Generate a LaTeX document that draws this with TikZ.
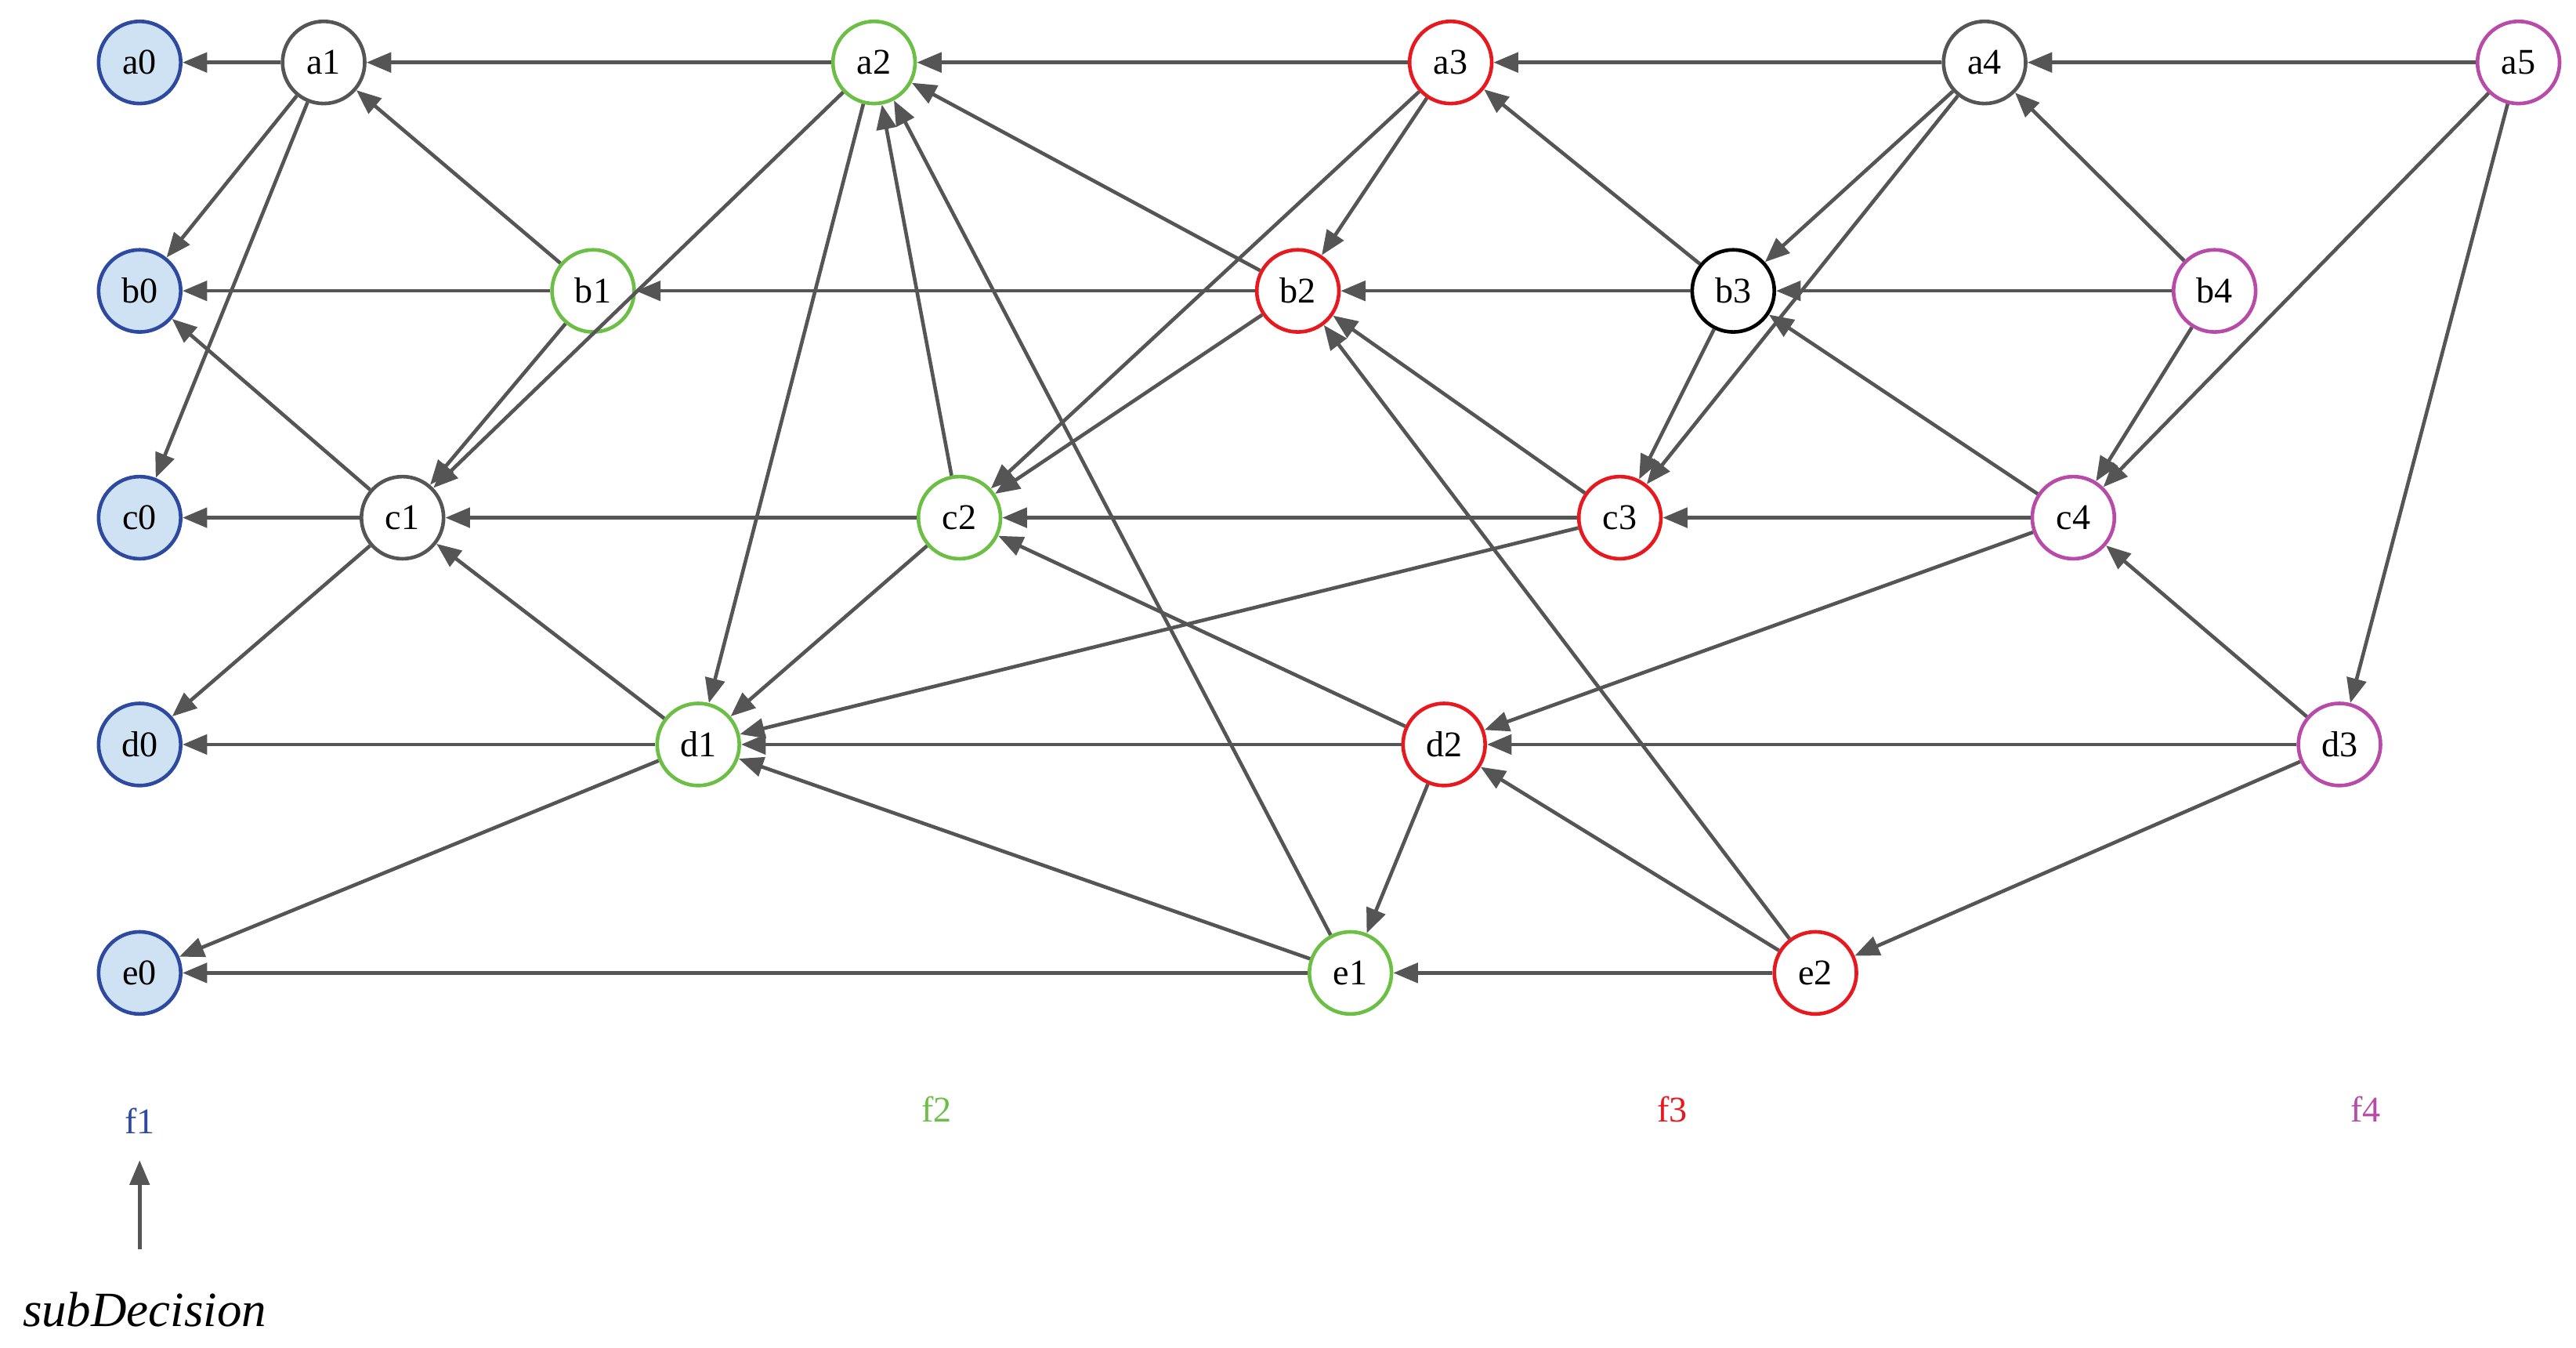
\documentclass[tikz,border=0pt]{standalone}
\usepackage{fontspec}
\setmainfont{Liberation Serif}
\usetikzlibrary{arrows.meta}
\definecolor{cB}{HTML}{2E4AA0}
\definecolor{cBf}{HTML}{CFE2F3}
\definecolor{cG}{HTML}{6BBF45}
\definecolor{cR}{HTML}{E8191E}
\definecolor{cM}{HTML}{B84AA8}
\definecolor{cK}{HTML}{555555}
\begin{document}
\begin{tikzpicture}[x=1pt,y=-1pt,
 nd/.style={circle,draw,line width=2.2pt,minimum size=50pt,inner sep=0pt,fill=white,font=\fontsize{22}{24}\selectfont},
 bl/.style={nd,draw=cB,fill=cBf},
 gr/.style={nd,draw=cG}, rd/.style={nd,draw=cR}, mg/.style={nd,draw=cM},
 gy/.style={nd,draw=cK}, bk/.style={nd,draw=black},
 ed/.style={-{Triangle[length=15pt,width=12pt]},line width=2.2pt,draw=cK}]
\useasboundingbox (0,0) rectangle (1568,820);
\node[bl] (a0) at (85,38) {a0};
\node[gy] (a1) at (197,38) {a1};
\node[gr] (a2) at (532,38) {a2};
\node[rd] (a3) at (883,38) {a3};
\node[gy] (a4) at (1208,38) {a4};
\node[mg] (a5) at (1533,38) {a5};
\node[bl] (b0) at (85,177) {b0};
\node[gr] (b1) at (361,177) {b1};
\node[rd] (b2) at (790,177) {b2};
\node[bk] (b3) at (1055,177) {b3};
\node[mg] (b4) at (1348,177) {b4};
\node[bl] (c0) at (85,315) {c0};
\node[gy] (c1) at (245,315) {c1};
\node[gr] (c2) at (584,315) {c2};
\node[rd] (c3) at (986,315) {c3};
\node[mg] (c4) at (1262,315) {c4};
\node[bl] (d0) at (85,453) {d0};
\node[gr] (d1) at (425,453) {d1};
\node[rd] (d2) at (879,453) {d2};
\node[mg] (d3) at (1424,453) {d3};
\node[bl] (e0) at (85,592) {e0};
\node[gr] (e1) at (822,592) {e1};
\node[rd] (e2) at (1105,592) {e2};
\node[text=cB,font=\fontsize{22}{24}\selectfont] (f1) at (85,682) {f1};
\node[text=cG,font=\fontsize{22}{24}\selectfont] (f2) at (570,675) {f2};
\node[text=cR,font=\fontsize{22}{24}\selectfont] (f3) at (1018,675) {f3};
\node[text=cM,font=\fontsize{22}{24}\selectfont] (f4) at (1440,675) {f4};
\coordinate (s0) at (85,760);
\coordinate (s1) at (85,706);
\draw[ed] (s0) -- (s1);
\node[font=\itshape\fontsize{30}{32}\selectfont] (sd) at (88,797) {subDecision};
\foreach \u/\v in {a1/a0,a2/a1,a3/a2,a4/a3,a5/a4,a1/b0,a1/c0,b1/a1,b1/b0,b1/c1,a2/c1,a2/d1,c2/a2,e1/a2,b2/a2,
 a3/b2,a3/c2,b3/a3,a4/b3,a4/c3,b4/a4,b4/b3,b4/c4,a5/c4,a5/d3,b2/b1,b3/b2,b2/c2,b3/c3,c3/b2,c4/b3,e2/b2,
 c1/c0,c2/c1,c3/c2,c4/c3,c1/b0,c1/d0,d1/c1,c2/d1,c3/d1,d2/c2,c4/d2,d3/c4,d1/d0,d2/d1,d3/d2,d1/e0,e1/d1,d2/e1,e2/d2,d3/e2,e1/e0,e2/e1}
 \draw[ed] (\u) -- (\v);
\end{tikzpicture}
\end{document}
